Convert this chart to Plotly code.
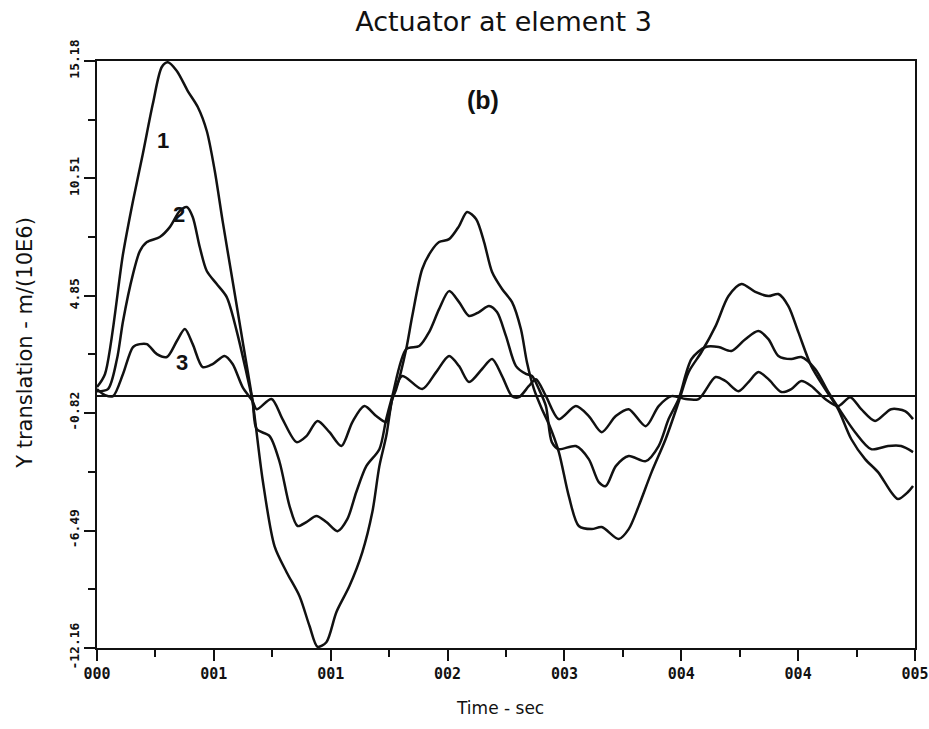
import plotly.graph_objects as go

# time in milliseconds, displacement in m/(10E6)
t1 = [0, 0.49, 1.59, 2.20, 2.80, 3.41, 3.96, 4.33, 4.88, 5.55, 6.16, 6.71, 7.20, 7.68, 8.29, 8.90,
      9.51, 10.12, 10.85, 11.59, 12.38, 12.99, 13.48, 14.02, 14.63, 15.43, 16.22, 16.83, 17.26, 17.68,
      18.05, 18.29, 18.90, 19.27, 19.88, 20.43, 20.91, 21.52, 22.13, 22.62, 23.17, 23.66, 24.15, 24.76,
      25.37, 25.91, 26.28, 26.71, 27.20, 27.62, 28.23, 28.84, 29.45, 30.24, 30.85, 31.89, 32.50, 33.11,
      33.90, 34.76, 35.55, 36.16, 36.95, 37.81, 38.60, 39.39, 40.24, 41.04, 41.65, 42.26, 42.87, 43.66,
      44.51, 45.30, 46.10, 46.95, 47.74, 48.54, 48.96, 49.57, 49.88]
y1 = [0.44, 1.07, 6.86, 9.42, 11.69, 14.10, 15.89, 16.12, 15.70, 14.73, 13.96, 12.80, 10.87, 8.45, 5.56, 2.66,
      -0.24, -4.01, -7.24, -8.50, -9.66, -11.10, -12.10, -11.88, -10.43, -9.17, -7.53, -5.60, -3.38, -1.93,
      -0.14, 0.34, 2.27, 3.87, 6.14, 7.00, 7.44, 7.58, 8.21, 8.89, 8.55, 7.44, 5.99, 5.17,
      4.54, 3.24, 1.64, 0.34, -0.63, -1.35, -2.70, -4.83, -6.27, -6.42, -6.32, -6.90, -6.42, -5.31,
      -3.67, -2.07, -0.29, 1.16, 2.13, 3.38, 4.83, 5.41, 5.03, 4.83, 4.93, 4.35, 3.09, 1.45,
      0.34, -0.63, -2.07, -3.04, -3.67, -4.63, -4.97, -4.63, -4.34]

t2 = [0, 0.67, 1.22, 1.59, 2.20, 2.62, 3.05, 3.84, 4.45, 5.06, 5.49, 5.85, 6.28, 6.71, 7.32, 7.93, 8.54,
      9.15, 9.51, 9.76, 10.55, 11.16, 11.77, 12.26, 12.80, 13.41, 14.02, 14.70, 15.30, 15.85, 16.46,
      17.26, 17.68, 18.05, 18.90, 19.70, 20.30, 20.91, 21.52, 22.13, 22.74, 23.35, 23.96, 24.45, 25.00,
      25.61, 26.22, 26.59, 27.01, 27.44, 27.80, 28.23, 29.27, 30.06, 30.67, 31.10, 31.71, 32.50, 33.54,
      34.33, 34.94, 35.55, 36.34, 37.20, 37.99, 38.78, 39.63, 40.43, 41.04, 41.65, 42.44, 43.05, 43.90,
      44.70, 45.49, 46.34, 47.32, 48.35, 49.15, 49.88]
y2 = [0.24, 0.34, 1.79, 3.62, 5.89, 7.00, 7.44, 7.68, 8.16, 8.94, 9.13, 8.65, 7.20, 6.04, 5.41, 4.78, 3.14,
      1.07, -0.24, -1.59, -1.93, -3.18, -5.31, -6.27, -6.08, -5.79, -6.08, -6.52, -5.94, -4.63, -3.38,
      -2.56, -1.11, 0.00, 2.27, 2.42, 3.09, 4.20, 5.07, 4.54, 3.87, 4.06, 4.35, 4.06, 2.90,
      1.45, 1.07, 0.97, 0.34, -0.48, -2.22, -2.56, -2.41, -3.04, -4.15, -4.34, -3.38, -2.89, -3.14,
      -2.41, -1.11, -0.14, 1.79, 2.37, 2.37, 2.18, 2.75, 3.14, 2.75, 1.94, 1.79, 1.89, 1.31,
      0.20, -0.77, -1.74, -2.56, -2.41, -2.41, -2.70]

t3 = [0, 0.49, 0.98, 1.59, 2.20, 2.62, 3.05, 3.66, 4.27, 4.88, 5.37, 5.85, 6.46, 7.07, 7.80, 8.29, 8.90,
      9.51, 9.76, 10.67, 11.34, 12.20, 12.80, 13.48, 14.21, 14.94, 15.61, 16.34, 17.07, 17.68, 18.05,
      18.66, 19.88, 20.73, 21.52, 22.13, 22.74, 23.54, 24.15, 24.76, 25.37, 25.79, 26.40, 26.83, 27.44,
      28.23, 29.27, 30.06, 30.85, 31.71, 32.50, 33.54, 34.33, 35.12, 35.98, 36.77, 37.81, 38.41, 39.21,
      39.82, 40.43, 41.04, 41.83, 42.44, 43.05, 43.66, 44.51, 45.30, 46.04, 46.71, 47.56, 48.54, 49.39, 49.88]
y3 = [0.34, 0.05, 0.00, 1.07, 2.37, 2.51, 2.51, 2.03, 1.89, 2.66, 3.24, 2.51, 1.40, 1.55, 1.94, 1.55, 0.44,
      -0.24, -0.63, -0.14, -1.11, -2.22, -1.93, -1.20, -1.74, -2.41, -1.25, -0.48, -0.96, -1.25, -0.14,
      0.97, 0.34, 1.16, 1.94, 1.45, 0.68, 1.31, 1.79, 0.97, 0.00, -0.05, 0.49, 0.82, 0.00,
      -1.11, -0.48, -0.96, -1.74, -0.96, -0.63, -1.45, -0.48, 0.00, -0.14, -0.14, 0.92, 0.73, 0.24,
      0.68, 1.16, 0.82, 0.20, 0.34, 0.73, 0.49, -0.14, -0.48, -0.05, -0.63, -1.20, -0.63, -0.72, -1.11]

x_min, x_max = 0, 50
x_tick_text = ["000", "001", "001", "002", "003", "004", "004", "005"]
y_tick_vals = [-12.16, -6.49, -0.82, 4.85, 10.51, 16.18]
y_tick_text = ["-12.16", "-6.49", "-0.82", "4.85", "10.51", "15.18"]

n = len(x_tick_text) - 1
x_tick_vals = [x_min + (x_max - x_min) * i / n for i in range(n + 1)]
x_minor_vals = [(x_tick_vals[i] + x_tick_vals[i + 1]) / 2 for i in range(n)]
y_minor_vals = [(y_tick_vals[i] + y_tick_vals[i + 1]) / 2 for i in range(len(y_tick_vals) - 1)]

fig = go.Figure()
for tx, ty in [(t1, y1), (t2, y2), (t3, y3)]:
    fig.add_trace(go.Scatter(x=tx, y=ty, mode="lines",
                             line=dict(color="#111111", width=2.5, shape="spline", smoothing=0.8),
                             showlegend=False, hoverinfo="skip"))

fig.update_layout(
    width=929, height=729,
    margin=dict(l=97, r=14, t=61, b=81),
    paper_bgcolor="white", plot_bgcolor="white",
    title=dict(text="Actuator at element 3", x=0.542, xanchor="center", y=0.97, yanchor="middle",
               font=dict(family="DejaVu Sans", size=27, color="#111")),
    font=dict(family="DejaVu Sans", color="#111"),
)

fig.update_xaxes(
    range=[x_min, x_max], tickmode="array", tickvals=x_tick_vals, ticktext=x_tick_text,
    ticks="outside", ticklen=11, tickwidth=2, tickcolor="#111", automargin=False,
    tickfont=dict(family="DejaVu Sans Mono", size=15, color="#111", weight="bold"),
    showline=True, linecolor="#111", linewidth=2, mirror=True, showgrid=False, zeroline=False,
    minor=dict(tickmode="array", tickvals=x_minor_vals, ticks="outside", ticklen=7,
               tickwidth=2, tickcolor="#111"),
)
fig.update_yaxes(
    range=[y_tick_vals[0], y_tick_vals[-1]], tickmode="array", tickvals=y_tick_vals, ticktext=y_tick_text,
    tickangle=-90, ticks="outside", ticklen=11, tickwidth=2, tickcolor="#111", automargin=False,
    tickfont=dict(family="DejaVu Sans Mono", size=13, color="#111", weight="bold"),
    showline=True, linecolor="#111", linewidth=2, mirror=True, showgrid=False,
    zeroline=True, zerolinecolor="#111", zerolinewidth=2,
    minor=dict(tickmode="array", tickvals=y_minor_vals, ticks="outside", ticklen=7,
               tickwidth=2, tickcolor="#111"),
)

# axis titles
fig.add_annotation(text="Time - sec", x=0.493, y=-0.102, xref="paper", yref="paper", showarrow=False,
                   xanchor="center", yanchor="middle",
                   font=dict(family="DejaVu Sans", size=17, color="#111"))
fig.add_annotation(text="Y translation - m/(10E6)", x=-0.088, y=0.52, xref="paper", yref="paper",
                   showarrow=False, textangle=-90, xanchor="center", yanchor="middle",
                   font=dict(family="DejaVu Sans", size=21, color="#111"))

labels = [("(b)", 0.472, 0.934, 25), ("1", 0.081, 0.865, 22), ("2", 0.100, 0.738, 22), ("3", 0.104, 0.487, 22)]
for txt, ax, ay, sz in labels:
    fig.add_annotation(text=txt, x=ax, y=ay, xref="paper", yref="paper", showarrow=False,
                       xanchor="center", yanchor="middle",
                       font=dict(family="Liberation Sans", size=sz, color="#111", weight="bold"))

fig.write_html("out.html")
